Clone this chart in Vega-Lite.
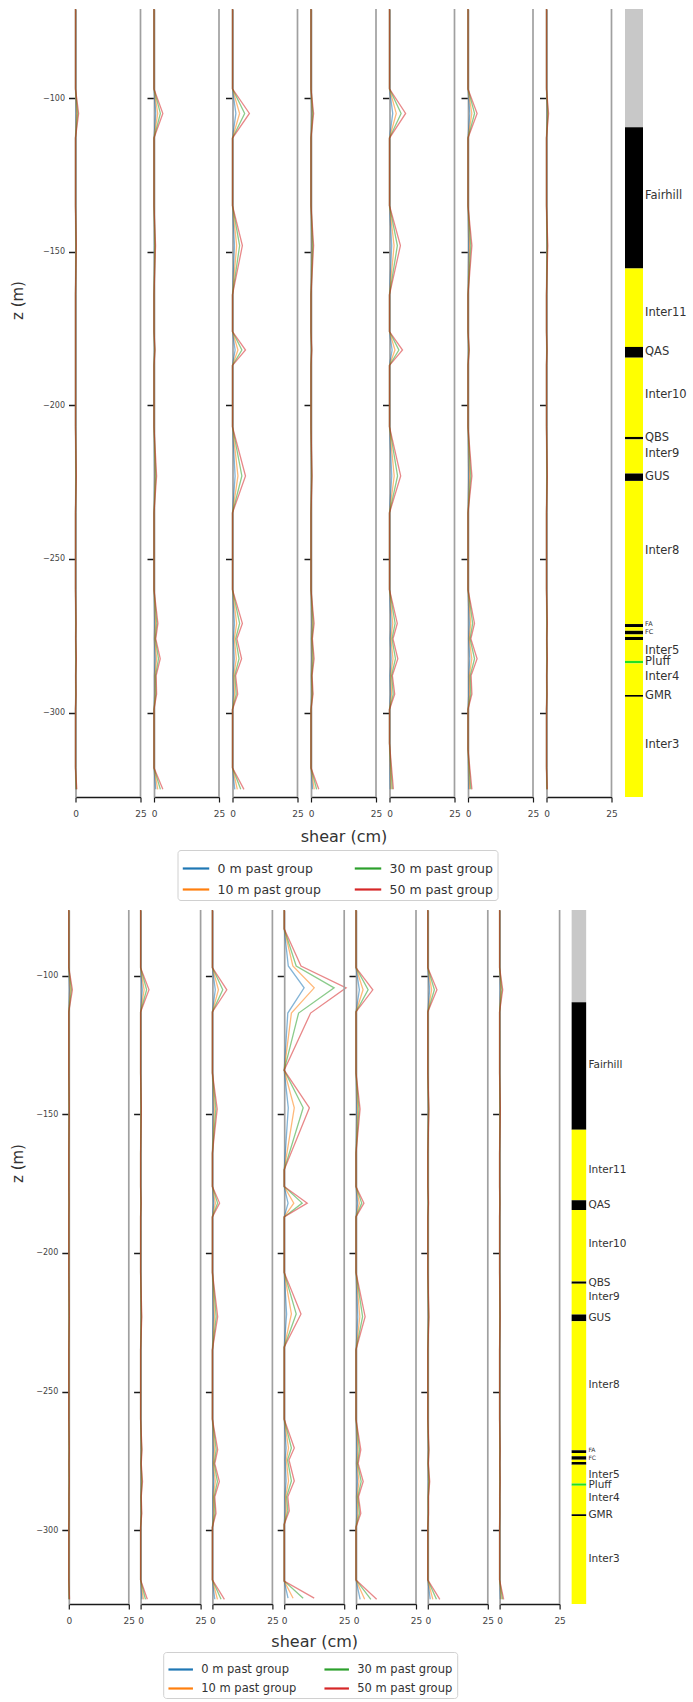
{
"$schema": "https://vega.github.io/schema/vega-lite/v6.json",
"background": "white",
"padding": {"left": 10, "top": 6, "right": 0, "bottom": 0},
"config": {
 "view": {"stroke": null},
 "font": "DejaVu Sans",
 "axis": {"grid": false, "labelFont": "DejaVu Sans", "titleFont": "DejaVu Sans", "titleFontWeight": "normal", "titleColor": "#333", "labelColor": "#444"},
 "axisX": {"domainColor": "#1a1a1a", "domainWidth": 1.4, "tickColor": "#1a1a1a", "tickSize": 5, "tickWidth": 1.2, "labelFontSize": 9, "labelPadding": 7, "labelFlush": false, "labelOverlap": false},
 "axisY": {"domainColor": "#a0a0a0", "domainWidth": 1.7, "tickColor": "#1a1a1a", "tickSize": 7, "tickWidth": 1.5, "labelFontSize": 8, "labelPadding": 4},
 "legend": {"symbolType": "stroke", "symbolStrokeWidth": 2.2, "symbolOpacity": 1, "labelFont": "DejaVu Sans", "labelColor": "#333", "strokeColor": "#d0d0d0", "fillColor": "#ffffff", "cornerRadius": 3, "padding": 4, "columns": 2, "labelOffset": 7}
},
"datasets": {
 "strat": [
  {"top": -71, "bot": -109.5, "kind": "none"},
  {"top": -109.5, "bot": -155.5, "kind": "flow", "label": "Fairhill", "mid": -132},
  {"top": -155.5, "bot": -181, "kind": "inter", "label": "Inter11", "mid": -170},
  {"top": -181, "bot": -184.5, "kind": "flow", "label": "QAS", "mid": -182.8},
  {"top": -184.5, "bot": -210.3, "kind": "inter", "label": "Inter10", "mid": -196.8},
  {"top": -210.3, "bot": -211.1, "kind": "flow", "label": "QBS", "mid": -210.7},
  {"top": -211.1, "bot": -222.2, "kind": "inter", "label": "Inter9", "mid": -216},
  {"top": -222.2, "bot": -224.6, "kind": "flow", "label": "GUS", "mid": -223.4},
  {"top": -224.6, "bot": -271.2, "kind": "inter", "label": "Inter8", "mid": -247.5},
  {"top": -271.2, "bot": -272.2, "kind": "flow", "label": "FA", "mid": -271.2},
  {"top": -272.2, "bot": -273.4, "kind": "inter"},
  {"top": -273.4, "bot": -274.6, "kind": "flow", "label": "FC", "mid": -273.9},
  {"top": -274.6, "bot": -275.4, "kind": "inter"},
  {"top": -275.4, "bot": -276.4, "kind": "flow"},
  {"top": -276.4, "bot": -283.2, "kind": "inter", "label": "Inter5", "mid": -280},
  {"top": -283.2, "bot": -284, "kind": "tuff", "label": "Pluff", "mid": -283.6},
  {"top": -284, "bot": -294.3, "kind": "inter", "label": "Inter4", "mid": -288.6},
  {"top": -294.3, "bot": -294.9, "kind": "flow", "label": "GMR", "mid": -294.6},
  {"top": -294.9, "bot": -327.5, "kind": "inter", "label": "Inter3", "mid": -310.5}
 ],
 "shear": [
  {"f":1,"p":1,"z":-71,"m0":0,"m10":0,"m30":0,"m50":0},
  {"f":1,"p":1,"z":-97,"m0":0,"m10":0,"m30":0,"m50":0},
  {"f":1,"p":1,"z":-105,"m0":0.24,"m10":0.5,"m30":0.86,"m50":1.2},
  {"f":1,"p":1,"z":-113,"m0":0,"m10":0,"m30":0,"m50":0},
  {"f":1,"p":1,"z":-135,"m0":0,"m10":0,"m30":0,"m50":0},
  {"f":1,"p":1,"z":-148,"m0":0.06,"m10":0.13,"m30":0.22,"m50":0.3},
  {"f":1,"p":1,"z":-164,"m0":0,"m10":0,"m30":0,"m50":0},
  {"f":1,"p":1,"z":-207,"m0":0,"m10":0,"m30":0,"m50":0},
  {"f":1,"p":1,"z":-223,"m0":0.06,"m10":0.13,"m30":0.22,"m50":0.3},
  {"f":1,"p":1,"z":-235,"m0":0,"m10":0,"m30":0,"m50":0},
  {"f":1,"p":1,"z":-260,"m0":0,"m10":0,"m30":0,"m50":0},
  {"f":1,"p":1,"z":-271,"m0":0.04,"m10":0.08,"m30":0.14,"m50":0.2},
  {"f":1,"p":1,"z":-276,"m0":0.02,"m10":0.04,"m30":0.06,"m50":0.09},
  {"f":1,"p":1,"z":-282.5,"m0":0.06,"m10":0.13,"m30":0.22,"m50":0.3},
  {"f":1,"p":1,"z":-288,"m0":0.02,"m10":0.04,"m30":0.07,"m50":0.1},
  {"f":1,"p":1,"z":-294,"m0":0.04,"m10":0.08,"m30":0.14,"m50":0.2},
  {"f":1,"p":1,"z":-299,"m0":0,"m10":0,"m30":0,"m50":0},
  {"f":1,"p":1,"z":-318,"m0":0,"m10":0,"m30":0,"m50":0},
  {"f":1,"p":1,"z":-325,"m0":0.1,"m10":0.21,"m30":0.36,"m50":0.5},

  {"f":1,"p":2,"z":-71,"m0":0,"m10":0,"m30":0,"m50":0},
  {"f":1,"p":2,"z":-97,"m0":0,"m10":0,"m30":0,"m50":0},
  {"f":1,"p":2,"z":-105,"m0":0.68,"m10":1.43,"m30":2.45,"m50":3.4},
  {"f":1,"p":2,"z":-113,"m0":0,"m10":0,"m30":0,"m50":0},
  {"f":1,"p":2,"z":-135,"m0":0,"m10":0,"m30":0,"m50":0},
  {"f":1,"p":2,"z":-148,"m0":0.12,"m10":0.25,"m30":0.43,"m50":0.6},
  {"f":1,"p":2,"z":-164,"m0":0,"m10":0,"m30":0,"m50":0},
  {"f":1,"p":2,"z":-176,"m0":0,"m10":0,"m30":0,"m50":0},
  {"f":1,"p":2,"z":-182,"m0":0.08,"m10":0.17,"m30":0.29,"m50":0.4},
  {"f":1,"p":2,"z":-187,"m0":0,"m10":0,"m30":0,"m50":0},
  {"f":1,"p":2,"z":-207,"m0":0,"m10":0,"m30":0,"m50":0},
  {"f":1,"p":2,"z":-223,"m0":0.2,"m10":0.42,"m30":0.72,"m50":1},
  {"f":1,"p":2,"z":-235,"m0":0,"m10":0,"m30":0,"m50":0},
  {"f":1,"p":2,"z":-260,"m0":0,"m10":0,"m30":0,"m50":0},
  {"f":1,"p":2,"z":-271,"m0":0.3,"m10":0.63,"m30":1.08,"m50":1.5},
  {"f":1,"p":2,"z":-276,"m0":0.14,"m10":0.29,"m30":0.49,"m50":0.68},
  {"f":1,"p":2,"z":-282.5,"m0":0.48,"m10":1.01,"m30":1.73,"m50":2.4},
  {"f":1,"p":2,"z":-288,"m0":0.17,"m10":0.35,"m30":0.6,"m50":0.84},
  {"f":1,"p":2,"z":-294,"m0":0.2,"m10":0.42,"m30":0.72,"m50":1},
  {"f":1,"p":2,"z":-299,"m0":0,"m10":0,"m30":0,"m50":0},
  {"f":1,"p":2,"z":-318,"m0":0,"m10":0,"m30":0,"m50":0},
  {"f":1,"p":2,"z":-325,"m0":0.68,"m10":1.43,"m30":2.45,"m50":3.4},

  {"f":1,"p":3,"z":-71,"m0":0,"m10":0,"m30":0,"m50":0},
  {"f":1,"p":3,"z":-97,"m0":0,"m10":0,"m30":0,"m50":0},
  {"f":1,"p":3,"z":-105,"m0":1.3,"m10":2.73,"m30":4.68,"m50":6.5},
  {"f":1,"p":3,"z":-113,"m0":0,"m10":0,"m30":0,"m50":0},
  {"f":1,"p":3,"z":-135,"m0":0,"m10":0,"m30":0,"m50":0},
  {"f":1,"p":3,"z":-148,"m0":0.76,"m10":1.6,"m30":2.74,"m50":3.8},
  {"f":1,"p":3,"z":-164,"m0":0,"m10":0,"m30":0,"m50":0},
  {"f":1,"p":3,"z":-176,"m0":0,"m10":0,"m30":0,"m50":0},
  {"f":1,"p":3,"z":-182,"m0":1,"m10":2.1,"m30":3.6,"m50":5},
  {"f":1,"p":3,"z":-187,"m0":0,"m10":0,"m30":0,"m50":0},
  {"f":1,"p":3,"z":-207,"m0":0,"m10":0,"m30":0,"m50":0},
  {"f":1,"p":3,"z":-223,"m0":1,"m10":2.1,"m30":3.6,"m50":5},
  {"f":1,"p":3,"z":-235,"m0":0,"m10":0,"m30":0,"m50":0},
  {"f":1,"p":3,"z":-260,"m0":0,"m10":0,"m30":0,"m50":0},
  {"f":1,"p":3,"z":-271,"m0":0.76,"m10":1.6,"m30":2.74,"m50":3.8},
  {"f":1,"p":3,"z":-276,"m0":0.34,"m10":0.71,"m30":1.22,"m50":1.7},
  {"f":1,"p":3,"z":-282.5,"m0":0.7,"m10":1.47,"m30":2.52,"m50":3.5},
  {"f":1,"p":3,"z":-288,"m0":0.24,"m10":0.5,"m30":0.86,"m50":1.2},
  {"f":1,"p":3,"z":-294,"m0":0.4,"m10":0.84,"m30":1.44,"m50":2},
  {"f":1,"p":3,"z":-299,"m0":0,"m10":0,"m30":0,"m50":0},
  {"f":1,"p":3,"z":-318,"m0":0,"m10":0,"m30":0,"m50":0},
  {"f":1,"p":3,"z":-325,"m0":0.88,"m10":1.85,"m30":3.17,"m50":4.4},

  {"f":1,"p":4,"z":-71,"m0":0,"m10":0,"m30":0,"m50":0},
  {"f":1,"p":4,"z":-97,"m0":0,"m10":0,"m30":0,"m50":0},
  {"f":1,"p":4,"z":-105,"m0":0.2,"m10":0.42,"m30":0.72,"m50":1},
  {"f":1,"p":4,"z":-113,"m0":0,"m10":0,"m30":0,"m50":0},
  {"f":1,"p":4,"z":-135,"m0":0,"m10":0,"m30":0,"m50":0},
  {"f":1,"p":4,"z":-148,"m0":0.2,"m10":0.42,"m30":0.72,"m50":1},
  {"f":1,"p":4,"z":-164,"m0":0,"m10":0,"m30":0,"m50":0},
  {"f":1,"p":4,"z":-176,"m0":0,"m10":0,"m30":0,"m50":0},
  {"f":1,"p":4,"z":-182,"m0":0.06,"m10":0.13,"m30":0.22,"m50":0.3},
  {"f":1,"p":4,"z":-187,"m0":0,"m10":0,"m30":0,"m50":0},
  {"f":1,"p":4,"z":-207,"m0":0,"m10":0,"m30":0,"m50":0},
  {"f":1,"p":4,"z":-223,"m0":0.08,"m10":0.17,"m30":0.29,"m50":0.4},
  {"f":1,"p":4,"z":-235,"m0":0,"m10":0,"m30":0,"m50":0},
  {"f":1,"p":4,"z":-260,"m0":0,"m10":0,"m30":0,"m50":0},
  {"f":1,"p":4,"z":-271,"m0":0.24,"m10":0.5,"m30":0.86,"m50":1.2},
  {"f":1,"p":4,"z":-276,"m0":0.11,"m10":0.23,"m30":0.39,"m50":0.54},
  {"f":1,"p":4,"z":-282.5,"m0":0.24,"m10":0.5,"m30":0.86,"m50":1.2},
  {"f":1,"p":4,"z":-288,"m0":0.08,"m10":0.18,"m30":0.3,"m50":0.42},
  {"f":1,"p":4,"z":-294,"m0":0.16,"m10":0.34,"m30":0.58,"m50":0.8},
  {"f":1,"p":4,"z":-299,"m0":0,"m10":0,"m30":0,"m50":0},
  {"f":1,"p":4,"z":-318,"m0":0,"m10":0,"m30":0,"m50":0},
  {"f":1,"p":4,"z":-325,"m0":0.6,"m10":1.26,"m30":2.16,"m50":3},

  {"f":1,"p":5,"z":-71,"m0":0,"m10":0,"m30":0,"m50":0},
  {"f":1,"p":5,"z":-97,"m0":0,"m10":0,"m30":0,"m50":0},
  {"f":1,"p":5,"z":-105,"m0":1.24,"m10":2.6,"m30":4.46,"m50":6.2},
  {"f":1,"p":5,"z":-113,"m0":0,"m10":0,"m30":0,"m50":0},
  {"f":1,"p":5,"z":-135,"m0":0,"m10":0,"m30":0,"m50":0},
  {"f":1,"p":5,"z":-148,"m0":0.84,"m10":1.76,"m30":3.02,"m50":4.2},
  {"f":1,"p":5,"z":-164,"m0":0,"m10":0,"m30":0,"m50":0},
  {"f":1,"p":5,"z":-176,"m0":0,"m10":0,"m30":0,"m50":0},
  {"f":1,"p":5,"z":-182,"m0":1,"m10":2.1,"m30":3.6,"m50":5},
  {"f":1,"p":5,"z":-187,"m0":0,"m10":0,"m30":0,"m50":0},
  {"f":1,"p":5,"z":-207,"m0":0,"m10":0,"m30":0,"m50":0},
  {"f":1,"p":5,"z":-223,"m0":0.86,"m10":1.81,"m30":3.1,"m50":4.3},
  {"f":1,"p":5,"z":-235,"m0":0,"m10":0,"m30":0,"m50":0},
  {"f":1,"p":5,"z":-260,"m0":0,"m10":0,"m30":0,"m50":0},
  {"f":1,"p":5,"z":-271,"m0":0.6,"m10":1.26,"m30":2.16,"m50":3},
  {"f":1,"p":5,"z":-276,"m0":0.27,"m10":0.57,"m30":0.97,"m50":1.35},
  {"f":1,"p":5,"z":-282.5,"m0":0.64,"m10":1.34,"m30":2.3,"m50":3.2},
  {"f":1,"p":5,"z":-288,"m0":0.22,"m10":0.46,"m30":0.79,"m50":1.1},
  {"f":1,"p":5,"z":-294,"m0":0.4,"m10":0.84,"m30":1.44,"m50":2},
  {"f":1,"p":5,"z":-299,"m0":0,"m10":0,"m30":0,"m50":0},
  {"f":1,"p":5,"z":-310,"m0":0,"m10":0,"m30":0,"m50":0},
  {"f":1,"p":5,"z":-325,"m0":0.3,"m10":0.63,"m30":1.08,"m50":1.5},

  {"f":1,"p":6,"z":-71,"m0":0,"m10":0,"m30":0,"m50":0},
  {"f":1,"p":6,"z":-97,"m0":0,"m10":0,"m30":0,"m50":0},
  {"f":1,"p":6,"z":-105,"m0":0.7,"m10":1.47,"m30":2.52,"m50":3.5},
  {"f":1,"p":6,"z":-113,"m0":0,"m10":0,"m30":0,"m50":0},
  {"f":1,"p":6,"z":-135,"m0":0,"m10":0,"m30":0,"m50":0},
  {"f":1,"p":6,"z":-148,"m0":0.3,"m10":0.63,"m30":1.08,"m50":1.5},
  {"f":1,"p":6,"z":-164,"m0":0,"m10":0,"m30":0,"m50":0},
  {"f":1,"p":6,"z":-176,"m0":0,"m10":0,"m30":0,"m50":0},
  {"f":1,"p":6,"z":-182,"m0":0.1,"m10":0.21,"m30":0.36,"m50":0.5},
  {"f":1,"p":6,"z":-187,"m0":0,"m10":0,"m30":0,"m50":0},
  {"f":1,"p":6,"z":-207,"m0":0,"m10":0,"m30":0,"m50":0},
  {"f":1,"p":6,"z":-223,"m0":0.3,"m10":0.63,"m30":1.08,"m50":1.5},
  {"f":1,"p":6,"z":-235,"m0":0,"m10":0,"m30":0,"m50":0},
  {"f":1,"p":6,"z":-260,"m0":0,"m10":0,"m30":0,"m50":0},
  {"f":1,"p":6,"z":-271,"m0":0.5,"m10":1.05,"m30":1.8,"m50":2.5},
  {"f":1,"p":6,"z":-276,"m0":0.22,"m10":0.46,"m30":0.79,"m50":1.1},
  {"f":1,"p":6,"z":-282.5,"m0":0.7,"m10":1.47,"m30":2.52,"m50":3.5},
  {"f":1,"p":6,"z":-288,"m0":0.24,"m10":0.5,"m30":0.86,"m50":1.2},
  {"f":1,"p":6,"z":-294,"m0":0.3,"m10":0.63,"m30":1.08,"m50":1.5},
  {"f":1,"p":6,"z":-299,"m0":0,"m10":0,"m30":0,"m50":0},
  {"f":1,"p":6,"z":-312,"m0":0,"m10":0,"m30":0,"m50":0},
  {"f":1,"p":6,"z":-325,"m0":0.3,"m10":0.63,"m30":1.08,"m50":1.5},

  {"f":1,"p":7,"z":-71,"m0":0,"m10":0,"m30":0,"m50":0},
  {"f":1,"p":7,"z":-97,"m0":0,"m10":0,"m30":0,"m50":0},
  {"f":1,"p":7,"z":-105,"m0":0.16,"m10":0.34,"m30":0.58,"m50":0.8},
  {"f":1,"p":7,"z":-113,"m0":0,"m10":0,"m30":0,"m50":0},
  {"f":1,"p":7,"z":-135,"m0":0,"m10":0,"m30":0,"m50":0},
  {"f":1,"p":7,"z":-148,"m0":0.1,"m10":0.21,"m30":0.36,"m50":0.5},
  {"f":1,"p":7,"z":-164,"m0":0,"m10":0,"m30":0,"m50":0},
  {"f":1,"p":7,"z":-176,"m0":0,"m10":0,"m30":0,"m50":0},
  {"f":1,"p":7,"z":-182,"m0":0.04,"m10":0.08,"m30":0.14,"m50":0.2},
  {"f":1,"p":7,"z":-187,"m0":0,"m10":0,"m30":0,"m50":0},
  {"f":1,"p":7,"z":-207,"m0":0,"m10":0,"m30":0,"m50":0},
  {"f":1,"p":7,"z":-223,"m0":0.06,"m10":0.13,"m30":0.22,"m50":0.3},
  {"f":1,"p":7,"z":-235,"m0":0,"m10":0,"m30":0,"m50":0},
  {"f":1,"p":7,"z":-260,"m0":0,"m10":0,"m30":0,"m50":0},
  {"f":1,"p":7,"z":-271,"m0":0.06,"m10":0.13,"m30":0.22,"m50":0.3},
  {"f":1,"p":7,"z":-276,"m0":0.03,"m10":0.05,"m30":0.09,"m50":0.13},
  {"f":1,"p":7,"z":-282.5,"m0":0.06,"m10":0.13,"m30":0.22,"m50":0.3},
  {"f":1,"p":7,"z":-288,"m0":0.02,"m10":0.04,"m30":0.07,"m50":0.1},
  {"f":1,"p":7,"z":-294,"m0":0.04,"m10":0.08,"m30":0.14,"m50":0.2},
  {"f":1,"p":7,"z":-299,"m0":0,"m10":0,"m30":0,"m50":0},
  {"f":1,"p":7,"z":-318,"m0":0,"m10":0,"m30":0,"m50":0},
  {"f":1,"p":7,"z":-325,"m0":0.06,"m10":0.13,"m30":0.22,"m50":0.3},

  {"f":2,"p":1,"z":-76.2,"m0":0,"m10":0,"m30":0,"m50":0},
  {"f":2,"p":1,"z":-97,"m0":0,"m10":0,"m30":0,"m50":0},
  {"f":2,"p":1,"z":-105,"m0":0.3,"m10":0.63,"m30":1.08,"m50":1.5},
  {"f":2,"p":1,"z":-113,"m0":0,"m10":0,"m30":0,"m50":0},
  {"f":2,"p":1,"z":-135,"m0":0,"m10":0,"m30":0,"m50":0},
  {"f":2,"p":1,"z":-148,"m0":0.04,"m10":0.08,"m30":0.14,"m50":0.2},
  {"f":2,"p":1,"z":-164,"m0":0,"m10":0,"m30":0,"m50":0},
  {"f":2,"p":1,"z":-176,"m0":0,"m10":0,"m30":0,"m50":0},
  {"f":2,"p":1,"z":-182,"m0":0.02,"m10":0.04,"m30":0.07,"m50":0.1},
  {"f":2,"p":1,"z":-187,"m0":0,"m10":0,"m30":0,"m50":0},
  {"f":2,"p":1,"z":-207,"m0":0,"m10":0,"m30":0,"m50":0},
  {"f":2,"p":1,"z":-223,"m0":0.04,"m10":0.08,"m30":0.14,"m50":0.2},
  {"f":2,"p":1,"z":-235,"m0":0,"m10":0,"m30":0,"m50":0},
  {"f":2,"p":1,"z":-260,"m0":0,"m10":0,"m30":0,"m50":0},
  {"f":2,"p":1,"z":-271,"m0":0.04,"m10":0.08,"m30":0.14,"m50":0.2},
  {"f":2,"p":1,"z":-276,"m0":0.02,"m10":0.04,"m30":0.06,"m50":0.09},
  {"f":2,"p":1,"z":-282.5,"m0":0.04,"m10":0.08,"m30":0.14,"m50":0.2},
  {"f":2,"p":1,"z":-288,"m0":0.01,"m10":0.03,"m30":0.05,"m50":0.07},
  {"f":2,"p":1,"z":-294,"m0":0.02,"m10":0.04,"m30":0.07,"m50":0.1},
  {"f":2,"p":1,"z":-299,"m0":0,"m10":0,"m30":0,"m50":0},
  {"f":2,"p":1,"z":-318,"m0":0,"m10":0,"m30":0,"m50":0},
  {"f":2,"p":1,"z":-325,"m0":0.06,"m10":0.13,"m30":0.22,"m50":0.3},

  {"f":2,"p":2,"z":-76.2,"m0":0,"m10":0,"m30":0,"m50":0},
  {"f":2,"p":2,"z":-97,"m0":0,"m10":0,"m30":0,"m50":0},
  {"f":2,"p":2,"z":-105,"m0":0.7,"m10":1.47,"m30":2.52,"m50":3.5},
  {"f":2,"p":2,"z":-113,"m0":0,"m10":0,"m30":0,"m50":0},
  {"f":2,"p":2,"z":-135,"m0":0,"m10":0,"m30":0,"m50":0},
  {"f":2,"p":2,"z":-148,"m0":0.06,"m10":0.13,"m30":0.22,"m50":0.3},
  {"f":2,"p":2,"z":-164,"m0":0,"m10":0,"m30":0,"m50":0},
  {"f":2,"p":2,"z":-176,"m0":0,"m10":0,"m30":0,"m50":0},
  {"f":2,"p":2,"z":-182,"m0":0.04,"m10":0.08,"m30":0.14,"m50":0.2},
  {"f":2,"p":2,"z":-187,"m0":0,"m10":0,"m30":0,"m50":0},
  {"f":2,"p":2,"z":-207,"m0":0,"m10":0,"m30":0,"m50":0},
  {"f":2,"p":2,"z":-223,"m0":0.1,"m10":0.21,"m30":0.36,"m50":0.5},
  {"f":2,"p":2,"z":-235,"m0":0,"m10":0,"m30":0,"m50":0},
  {"f":2,"p":2,"z":-260,"m0":0,"m10":0,"m30":0,"m50":0},
  {"f":2,"p":2,"z":-271,"m0":0.12,"m10":0.25,"m30":0.43,"m50":0.6},
  {"f":2,"p":2,"z":-276,"m0":0.05,"m10":0.11,"m30":0.19,"m50":0.27},
  {"f":2,"p":2,"z":-282.5,"m0":0.16,"m10":0.34,"m30":0.58,"m50":0.8},
  {"f":2,"p":2,"z":-288,"m0":0.06,"m10":0.12,"m30":0.2,"m50":0.28},
  {"f":2,"p":2,"z":-294,"m0":0.1,"m10":0.21,"m30":0.36,"m50":0.5},
  {"f":2,"p":2,"z":-299,"m0":0,"m10":0,"m30":0,"m50":0},
  {"f":2,"p":2,"z":-318,"m0":0,"m10":0,"m30":0,"m50":0},
  {"f":2,"p":2,"z":-325,"m0":0.56,"m10":1.18,"m30":2.02,"m50":2.8},

  {"f":2,"p":3,"z":-76.2,"m0":0,"m10":0,"m30":0,"m50":0},
  {"f":2,"p":3,"z":-97,"m0":0,"m10":0,"m30":0,"m50":0},
  {"f":2,"p":3,"z":-105,"m0":1.2,"m10":2.52,"m30":4.32,"m50":6},
  {"f":2,"p":3,"z":-113,"m0":0,"m10":0,"m30":0,"m50":0},
  {"f":2,"p":3,"z":-135,"m0":0,"m10":0,"m30":0,"m50":0},
  {"f":2,"p":3,"z":-148,"m0":0.4,"m10":0.84,"m30":1.44,"m50":2},
  {"f":2,"p":3,"z":-164,"m0":0,"m10":0,"m30":0,"m50":0},
  {"f":2,"p":3,"z":-176,"m0":0,"m10":0,"m30":0,"m50":0},
  {"f":2,"p":3,"z":-182,"m0":0.6,"m10":1.26,"m30":2.16,"m50":3},
  {"f":2,"p":3,"z":-187,"m0":0,"m10":0,"m30":0,"m50":0},
  {"f":2,"p":3,"z":-207,"m0":0,"m10":0,"m30":0,"m50":0},
  {"f":2,"p":3,"z":-223,"m0":0.44,"m10":0.92,"m30":1.58,"m50":2.2},
  {"f":2,"p":3,"z":-235,"m0":0,"m10":0,"m30":0,"m50":0},
  {"f":2,"p":3,"z":-260,"m0":0,"m10":0,"m30":0,"m50":0},
  {"f":2,"p":3,"z":-271,"m0":0.44,"m10":0.92,"m30":1.58,"m50":2.2},
  {"f":2,"p":3,"z":-276,"m0":0.2,"m10":0.42,"m30":0.72,"m50":1},
  {"f":2,"p":3,"z":-282.5,"m0":0.58,"m10":1.22,"m30":2.09,"m50":2.9},
  {"f":2,"p":3,"z":-288,"m0":0.2,"m10":0.42,"m30":0.72,"m50":1},
  {"f":2,"p":3,"z":-294,"m0":0.3,"m10":0.63,"m30":1.08,"m50":1.5},
  {"f":2,"p":3,"z":-299,"m0":0,"m10":0,"m30":0,"m50":0},
  {"f":2,"p":3,"z":-318,"m0":0,"m10":0,"m30":0,"m50":0},
  {"f":2,"p":3,"z":-325,"m0":1,"m10":2.1,"m30":3.6,"m50":5},

  {"f":2,"p":4,"z":-76.2,"m0":0,"m10":0,"m30":0,"m50":0},
  {"f":2,"p":4,"z":-83,"m0":0,"m10":0,"m30":0,"m50":0},
  {"f":2,"p":4,"z":-96.4,"m0":1.7,"m10":3.6,"m30":5,"m50":7},
  {"f":2,"p":4,"z":-104.3,"m0":8.3,"m10":12.5,"m30":20.8,"m50":25.8},
  {"f":2,"p":4,"z":-113.4,"m0":1.5,"m10":3,"m30":6,"m50":11},
  {"f":2,"p":4,"z":-134,"m0":0,"m10":0,"m30":0,"m50":0},
  {"f":2,"p":4,"z":-147.6,"m0":1.7,"m10":4.2,"m30":7.9,"m50":10.5},
  {"f":2,"p":4,"z":-170,"m0":0,"m10":0,"m30":0,"m50":0},
  {"f":2,"p":4,"z":-176,"m0":0,"m10":0,"m30":0,"m50":0},
  {"f":2,"p":4,"z":-182,"m0":1.6,"m10":4,"m30":7.5,"m50":9.6},
  {"f":2,"p":4,"z":-187,"m0":0,"m10":0,"m30":0,"m50":0},
  {"f":2,"p":4,"z":-207,"m0":0,"m10":0,"m30":0,"m50":0},
  {"f":2,"p":4,"z":-222,"m0":1,"m10":3,"m30":5,"m50":7},
  {"f":2,"p":4,"z":-234,"m0":0,"m10":0,"m30":0,"m50":0},
  {"f":2,"p":4,"z":-260,"m0":0,"m10":0,"m30":0,"m50":0},
  {"f":2,"p":4,"z":-270.4,"m0":0.8,"m10":1.8,"m30":3,"m50":4.2},
  {"f":2,"p":4,"z":-274.7,"m0":0.4,"m10":0.9,"m30":1.4,"m50":2},
  {"f":2,"p":4,"z":-282.3,"m0":0.8,"m10":1.8,"m30":3,"m50":4.2},
  {"f":2,"p":4,"z":-288,"m0":0.3,"m10":0.6,"m30":1,"m50":1.5},
  {"f":2,"p":4,"z":-293.1,"m0":0.4,"m10":0.9,"m30":1.5,"m50":2.1},
  {"f":2,"p":4,"z":-298,"m0":0,"m10":0,"m30":0,"m50":0},
  {"f":2,"p":4,"z":-318.4,"m0":0,"m10":0,"m30":0,"m50":0},
  {"f":2,"p":4,"z":-324.6,"m0":1.6,"m10":3.7,"m30":7.9,"m50":12.5},

  {"f":2,"p":5,"z":-76.2,"m0":0,"m10":0,"m30":0,"m50":0},
  {"f":2,"p":5,"z":-97,"m0":0,"m10":0,"m30":0,"m50":0},
  {"f":2,"p":5,"z":-105,"m0":1.4,"m10":2.94,"m30":5.04,"m50":7},
  {"f":2,"p":5,"z":-113,"m0":0,"m10":0,"m30":0,"m50":0},
  {"f":2,"p":5,"z":-135,"m0":0,"m10":0,"m30":0,"m50":0},
  {"f":2,"p":5,"z":-148,"m0":0.34,"m10":0.71,"m30":1.22,"m50":1.7},
  {"f":2,"p":5,"z":-164,"m0":0,"m10":0,"m30":0,"m50":0},
  {"f":2,"p":5,"z":-176,"m0":0,"m10":0,"m30":0,"m50":0},
  {"f":2,"p":5,"z":-182,"m0":0.66,"m10":1.39,"m30":2.38,"m50":3.3},
  {"f":2,"p":5,"z":-187,"m0":0,"m10":0,"m30":0,"m50":0},
  {"f":2,"p":5,"z":-207,"m0":0,"m10":0,"m30":0,"m50":0},
  {"f":2,"p":5,"z":-223,"m0":0.76,"m10":1.6,"m30":2.74,"m50":3.8},
  {"f":2,"p":5,"z":-235,"m0":0,"m10":0,"m30":0,"m50":0},
  {"f":2,"p":5,"z":-260,"m0":0,"m10":0,"m30":0,"m50":0},
  {"f":2,"p":5,"z":-271,"m0":0.4,"m10":0.84,"m30":1.44,"m50":2},
  {"f":2,"p":5,"z":-276,"m0":0.18,"m10":0.38,"m30":0.65,"m50":0.9},
  {"f":2,"p":5,"z":-282.5,"m0":0.6,"m10":1.26,"m30":2.16,"m50":3},
  {"f":2,"p":5,"z":-288,"m0":0.21,"m10":0.44,"m30":0.76,"m50":1.05},
  {"f":2,"p":5,"z":-294,"m0":0.4,"m10":0.84,"m30":1.44,"m50":2},
  {"f":2,"p":5,"z":-299,"m0":0,"m10":0,"m30":0,"m50":0},
  {"f":2,"p":5,"z":-318,"m0":0,"m10":0,"m30":0,"m50":0},
  {"f":2,"p":5,"z":-325,"m0":1.72,"m10":3.61,"m30":6.19,"m50":8.6},

  {"f":2,"p":6,"z":-76.2,"m0":0,"m10":0,"m30":0,"m50":0},
  {"f":2,"p":6,"z":-97,"m0":0,"m10":0,"m30":0,"m50":0},
  {"f":2,"p":6,"z":-105,"m0":0.76,"m10":1.6,"m30":2.74,"m50":3.8},
  {"f":2,"p":6,"z":-113,"m0":0,"m10":0,"m30":0,"m50":0},
  {"f":2,"p":6,"z":-135,"m0":0,"m10":0,"m30":0,"m50":0},
  {"f":2,"p":6,"z":-148,"m0":0.1,"m10":0.21,"m30":0.36,"m50":0.5},
  {"f":2,"p":6,"z":-164,"m0":0,"m10":0,"m30":0,"m50":0},
  {"f":2,"p":6,"z":-176,"m0":0,"m10":0,"m30":0,"m50":0},
  {"f":2,"p":6,"z":-182,"m0":0.06,"m10":0.13,"m30":0.22,"m50":0.3},
  {"f":2,"p":6,"z":-187,"m0":0,"m10":0,"m30":0,"m50":0},
  {"f":2,"p":6,"z":-207,"m0":0,"m10":0,"m30":0,"m50":0},
  {"f":2,"p":6,"z":-223,"m0":0.1,"m10":0.21,"m30":0.36,"m50":0.5},
  {"f":2,"p":6,"z":-235,"m0":0,"m10":0,"m30":0,"m50":0},
  {"f":2,"p":6,"z":-260,"m0":0,"m10":0,"m30":0,"m50":0},
  {"f":2,"p":6,"z":-271,"m0":0.1,"m10":0.21,"m30":0.36,"m50":0.5},
  {"f":2,"p":6,"z":-276,"m0":0.04,"m10":0.09,"m30":0.16,"m50":0.22},
  {"f":2,"p":6,"z":-282.5,"m0":0.16,"m10":0.34,"m30":0.58,"m50":0.8},
  {"f":2,"p":6,"z":-288,"m0":0.06,"m10":0.12,"m30":0.2,"m50":0.28},
  {"f":2,"p":6,"z":-294,"m0":0.06,"m10":0.13,"m30":0.22,"m50":0.3},
  {"f":2,"p":6,"z":-299,"m0":0,"m10":0,"m30":0,"m50":0},
  {"f":2,"p":6,"z":-318,"m0":0,"m10":0,"m30":0,"m50":0},
  {"f":2,"p":6,"z":-325,"m0":1,"m10":2.1,"m30":3.6,"m50":5},

  {"f":2,"p":7,"z":-76.2,"m0":0,"m10":0,"m30":0,"m50":0},
  {"f":2,"p":7,"z":-97,"m0":0,"m10":0,"m30":0,"m50":0},
  {"f":2,"p":7,"z":-105,"m0":0.26,"m10":0.55,"m30":0.94,"m50":1.3},
  {"f":2,"p":7,"z":-113,"m0":0,"m10":0,"m30":0,"m50":0},
  {"f":2,"p":7,"z":-135,"m0":0,"m10":0,"m30":0,"m50":0},
  {"f":2,"p":7,"z":-148,"m0":0.06,"m10":0.13,"m30":0.22,"m50":0.3},
  {"f":2,"p":7,"z":-164,"m0":0,"m10":0,"m30":0,"m50":0},
  {"f":2,"p":7,"z":-176,"m0":0,"m10":0,"m30":0,"m50":0},
  {"f":2,"p":7,"z":-182,"m0":0.02,"m10":0.04,"m30":0.07,"m50":0.1},
  {"f":2,"p":7,"z":-187,"m0":0,"m10":0,"m30":0,"m50":0},
  {"f":2,"p":7,"z":-207,"m0":0,"m10":0,"m30":0,"m50":0},
  {"f":2,"p":7,"z":-223,"m0":0.04,"m10":0.08,"m30":0.14,"m50":0.2},
  {"f":2,"p":7,"z":-235,"m0":0,"m10":0,"m30":0,"m50":0},
  {"f":2,"p":7,"z":-260,"m0":0,"m10":0,"m30":0,"m50":0},
  {"f":2,"p":7,"z":-271,"m0":0.04,"m10":0.08,"m30":0.14,"m50":0.2},
  {"f":2,"p":7,"z":-276,"m0":0.02,"m10":0.04,"m30":0.06,"m50":0.09},
  {"f":2,"p":7,"z":-282.5,"m0":0.04,"m10":0.08,"m30":0.14,"m50":0.2},
  {"f":2,"p":7,"z":-288,"m0":0.01,"m10":0.03,"m30":0.05,"m50":0.07},
  {"f":2,"p":7,"z":-294,"m0":0.02,"m10":0.04,"m30":0.07,"m50":0.1},
  {"f":2,"p":7,"z":-299,"m0":0,"m10":0,"m30":0,"m50":0},
  {"f":2,"p":7,"z":-318,"m0":0,"m10":0,"m30":0,"m50":0},
  {"f":2,"p":7,"z":-325,"m0":0.34,"m10":0.71,"m30":1.22,"m50":1.7}
 ]
},
"columns": 1,
"spacing": 6,
"resolve": {"scale": {"color": "independent"}},
"concat": [
 {
  "bounds": "flush",
  "spacing": 13.5,
  "resolve": {"scale": {"color": "independent"}},
  "hconcat": [
   {"width": 5.8, "height": 788, "data": {"values": [{}]}, "mark": {"type": "point", "opacity": 0}},
   {"width": 65, "height": 788, "layer": [
    {"data": {"name": "shear"}, "transform": [{"filter": "datum.f == 1 && datum.p == 1"}, {"fold": ["m0","m10","m30","m50"], "as": ["series","shear"]}],
     "mark": {"type": "line", "strokeWidth": 1.3, "opacity": 0.55},
     "encoding": {
      "x": {"field": "shear", "type": "quantitative", "scale": {"domain": [0,25], "nice": false, "zero": false}, "axis": {"values": [0,25], "title": null}},
      "y": {"field": "z", "type": "quantitative", "scale": {"domain": [-327.5,-71], "nice": false, "zero": false}, "axis": {"values": [-100,-150,-200,-250,-300], "title": "z (m)", "titleFontSize": 15, "titlePadding": 17, "titleY": 291}},
      "color": {"field": "series", "type": "nominal", "scale": {"domain": ["m0","m10","m30","m50"], "range": ["#1f77b4","#ff7f0e","#2ca02c","#d62728"]}, "legend": null},
      "order": {"field": "z", "type": "quantitative"}}},
    {"data": {"values": [{}]}, "mark": {"type": "rule", "color": "#a0a0a0", "strokeWidth": 1.7}, "encoding": {"x": {"datum": 25, "type": "quantitative", "axis": {"values": [0,25], "title": null}}}}
   ]},
   {"width": 65, "height": 788, "layer": [
    {"data": {"name": "shear"}, "transform": [{"filter": "datum.f == 1 && datum.p == 2"}, {"fold": ["m0","m10","m30","m50"], "as": ["series","shear"]}],
     "mark": {"type": "line", "strokeWidth": 1.3, "opacity": 0.55},
     "encoding": {
      "x": {"field": "shear", "type": "quantitative", "scale": {"domain": [0,25], "nice": false, "zero": false}, "axis": {"values": [0,25], "title": null}},
      "y": {"field": "z", "type": "quantitative", "scale": {"domain": [-327.5,-71], "nice": false, "zero": false}, "axis": {"values": [-100,-150,-200,-250,-300], "labels": false, "title": null}},
      "color": {"field": "series", "type": "nominal", "scale": {"domain": ["m0","m10","m30","m50"], "range": ["#1f77b4","#ff7f0e","#2ca02c","#d62728"]}, "legend": null},
      "order": {"field": "z", "type": "quantitative"}}},
    {"data": {"values": [{}]}, "mark": {"type": "rule", "color": "#a0a0a0", "strokeWidth": 1.7}, "encoding": {"x": {"datum": 25, "type": "quantitative", "axis": {"values": [0,25], "title": null}}}}
   ]},
   {"width": 65, "height": 788, "layer": [
    {"data": {"name": "shear"}, "transform": [{"filter": "datum.f == 1 && datum.p == 3"}, {"fold": ["m0","m10","m30","m50"], "as": ["series","shear"]}],
     "mark": {"type": "line", "strokeWidth": 1.3, "opacity": 0.55},
     "encoding": {
      "x": {"field": "shear", "type": "quantitative", "scale": {"domain": [0,25], "nice": false, "zero": false}, "axis": {"values": [0,25], "title": null}},
      "y": {"field": "z", "type": "quantitative", "scale": {"domain": [-327.5,-71], "nice": false, "zero": false}, "axis": {"values": [-100,-150,-200,-250,-300], "labels": false, "title": null}},
      "color": {"field": "series", "type": "nominal", "scale": {"domain": ["m0","m10","m30","m50"], "range": ["#1f77b4","#ff7f0e","#2ca02c","#d62728"]}, "legend": null},
      "order": {"field": "z", "type": "quantitative"}}},
    {"data": {"values": [{}]}, "mark": {"type": "rule", "color": "#a0a0a0", "strokeWidth": 1.7}, "encoding": {"x": {"datum": 25, "type": "quantitative", "axis": {"values": [0,25], "title": null}}}}
   ]},
   {"width": 65, "height": 788, "layer": [
    {"data": {"name": "shear"}, "transform": [{"filter": "datum.f == 1 && datum.p == 4"}, {"fold": ["m0","m10","m30","m50"], "as": ["series","shear"]}],
     "mark": {"type": "line", "strokeWidth": 1.3, "opacity": 0.55},
     "encoding": {
      "x": {"field": "shear", "type": "quantitative", "scale": {"domain": [0,25], "nice": false, "zero": false}, "axis": {"values": [0,25], "title": "shear (cm)", "titleFontSize": 16, "titlePadding": 10}},
      "y": {"field": "z", "type": "quantitative", "scale": {"domain": [-327.5,-71], "nice": false, "zero": false}, "axis": {"values": [-100,-150,-200,-250,-300], "labels": false, "title": null}},
      "color": {"field": "series", "type": "nominal", "scale": {"domain": ["m0","m10","m30","m50"], "range": ["#1f77b4","#ff7f0e","#2ca02c","#d62728"]},
        "legend": {"orient": "none", "legendX": -133.5, "legendY": 841, "title": null, "labelFontSize": 12.5, "symbolSize": 700, "rowPadding": -1.5, "columnPadding": 28,
          "labelExpr": "datum.value == 'm0' ? '0 m past group' : datum.value == 'm10' ? '10 m past group' : datum.value == 'm30' ? '30 m past group' : '50 m past group'"}},
      "order": {"field": "z", "type": "quantitative"}}},
    {"data": {"values": [{}]}, "mark": {"type": "rule", "color": "#a0a0a0", "strokeWidth": 1.7}, "encoding": {"x": {"datum": 25, "type": "quantitative", "axis": {"values": [0,25], "title": "shear (cm)", "titleFontSize": 16, "titlePadding": 10}}}}
   ]},
   {"width": 65, "height": 788, "layer": [
    {"data": {"name": "shear"}, "transform": [{"filter": "datum.f == 1 && datum.p == 5"}, {"fold": ["m0","m10","m30","m50"], "as": ["series","shear"]}],
     "mark": {"type": "line", "strokeWidth": 1.3, "opacity": 0.55},
     "encoding": {
      "x": {"field": "shear", "type": "quantitative", "scale": {"domain": [0,25], "nice": false, "zero": false}, "axis": {"values": [0,25], "title": null}},
      "y": {"field": "z", "type": "quantitative", "scale": {"domain": [-327.5,-71], "nice": false, "zero": false}, "axis": {"values": [-100,-150,-200,-250,-300], "labels": false, "title": null}},
      "color": {"field": "series", "type": "nominal", "scale": {"domain": ["m0","m10","m30","m50"], "range": ["#1f77b4","#ff7f0e","#2ca02c","#d62728"]}, "legend": null},
      "order": {"field": "z", "type": "quantitative"}}},
    {"data": {"values": [{}]}, "mark": {"type": "rule", "color": "#a0a0a0", "strokeWidth": 1.7}, "encoding": {"x": {"datum": 25, "type": "quantitative", "axis": {"values": [0,25], "title": null}}}}
   ]},
   {"width": 65, "height": 788, "layer": [
    {"data": {"name": "shear"}, "transform": [{"filter": "datum.f == 1 && datum.p == 6"}, {"fold": ["m0","m10","m30","m50"], "as": ["series","shear"]}],
     "mark": {"type": "line", "strokeWidth": 1.3, "opacity": 0.55},
     "encoding": {
      "x": {"field": "shear", "type": "quantitative", "scale": {"domain": [0,25], "nice": false, "zero": false}, "axis": {"values": [0,25], "title": null}},
      "y": {"field": "z", "type": "quantitative", "scale": {"domain": [-327.5,-71], "nice": false, "zero": false}, "axis": {"values": [-100,-150,-200,-250,-300], "labels": false, "title": null}},
      "color": {"field": "series", "type": "nominal", "scale": {"domain": ["m0","m10","m30","m50"], "range": ["#1f77b4","#ff7f0e","#2ca02c","#d62728"]}, "legend": null},
      "order": {"field": "z", "type": "quantitative"}}},
    {"data": {"values": [{}]}, "mark": {"type": "rule", "color": "#a0a0a0", "strokeWidth": 1.7}, "encoding": {"x": {"datum": 25, "type": "quantitative", "axis": {"values": [0,25], "title": null}}}}
   ]},
   {"width": 65, "height": 788, "layer": [
    {"data": {"name": "shear"}, "transform": [{"filter": "datum.f == 1 && datum.p == 7"}, {"fold": ["m0","m10","m30","m50"], "as": ["series","shear"]}],
     "mark": {"type": "line", "strokeWidth": 1.3, "opacity": 0.55},
     "encoding": {
      "x": {"field": "shear", "type": "quantitative", "scale": {"domain": [0,25], "nice": false, "zero": false}, "axis": {"values": [0,25], "title": null}},
      "y": {"field": "z", "type": "quantitative", "scale": {"domain": [-327.5,-71], "nice": false, "zero": false}, "axis": {"values": [-100,-150,-200,-250,-300], "labels": false, "title": null}},
      "color": {"field": "series", "type": "nominal", "scale": {"domain": ["m0","m10","m30","m50"], "range": ["#1f77b4","#ff7f0e","#2ca02c","#d62728"]}, "legend": null},
      "order": {"field": "z", "type": "quantitative"}}},
    {"data": {"values": [{}]}, "mark": {"type": "rule", "color": "#a0a0a0", "strokeWidth": 1.7}, "encoding": {"x": {"datum": 25, "type": "quantitative", "axis": {"values": [0,25], "title": null}}}}
   ]},
   {"width": 18, "height": 788, "data": {"name": "strat"}, "layer": [
    {"mark": {"type": "rect", "clip": true},
     "encoding": {
      "x": {"datum": 0, "type": "quantitative", "scale": {"domain": [0,1], "nice": false}, "axis": null},
      "x2": {"datum": 1},
      "y": {"field": "top", "type": "quantitative", "scale": {"domain": [-327.5,-71], "nice": false, "zero": false}, "axis": null},
      "y2": {"field": "bot"},
      "color": {"field": "kind", "type": "nominal", "scale": {"domain": ["none","flow","inter","tuff"], "range": ["#c8c8c8","#000000","#ffff00","#22e022"]}, "legend": null}}},
    {"transform": [{"filter": "isValid(datum.label) && datum.label != 'FA' && datum.label != 'FC'"}],
     "mark": {"type": "text", "align": "left", "baseline": "middle", "dx": 2, "fontSize": 11.5, "color": "#333"},
     "encoding": {"x": {"datum": 1, "type": "quantitative"}, "y": {"field": "mid", "type": "quantitative"}, "text": {"field": "label"}}},
    {"transform": [{"filter": "datum.label == 'FA' || datum.label == 'FC'"}],
     "mark": {"type": "text", "align": "left", "baseline": "middle", "dx": 2, "fontSize": 6.5, "color": "#333"},
     "encoding": {"x": {"datum": 1, "type": "quantitative"}, "y": {"field": "mid", "type": "quantitative"}, "text": {"field": "label"}}}
   ]}
  ]
 },
 {
  "bounds": "flush",
  "spacing": 11.8,
  "resolve": {"scale": {"color": "independent"}},
  "hconcat": [
   {"width": 0.5, "height": 694, "data": {"values": [{}]}, "mark": {"type": "point", "opacity": 0}},
   {"width": 60, "height": 694, "layer": [
    {"data": {"name": "shear"}, "transform": [{"filter": "datum.f == 2 && datum.p == 1"}, {"fold": ["m0","m10","m30","m50"], "as": ["series","shear"]}],
     "mark": {"type": "line", "strokeWidth": 1.3, "opacity": 0.55},
     "encoding": {
      "x": {"field": "shear", "type": "quantitative", "scale": {"domain": [0,25], "nice": false, "zero": false}, "axis": {"values": [0,25], "title": null}},
      "y": {"field": "z", "type": "quantitative", "scale": {"domain": [-326.7,-76.2], "nice": false, "zero": false}, "axis": {"values": [-100,-150,-200,-250,-300], "title": "z (m)", "titleFontSize": 15, "titlePadding": 10, "titleY": 253}},
      "color": {"field": "series", "type": "nominal", "scale": {"domain": ["m0","m10","m30","m50"], "range": ["#1f77b4","#ff7f0e","#2ca02c","#d62728"]}, "legend": null},
      "order": {"field": "z", "type": "quantitative"}}},
    {"data": {"values": [{}]}, "mark": {"type": "rule", "color": "#a0a0a0", "strokeWidth": 1.7}, "encoding": {"x": {"datum": 25, "type": "quantitative", "axis": {"values": [0,25], "title": null}}}}
   ]},
   {"width": 60, "height": 694, "layer": [
    {"data": {"name": "shear"}, "transform": [{"filter": "datum.f == 2 && datum.p == 2"}, {"fold": ["m0","m10","m30","m50"], "as": ["series","shear"]}],
     "mark": {"type": "line", "strokeWidth": 1.3, "opacity": 0.55},
     "encoding": {
      "x": {"field": "shear", "type": "quantitative", "scale": {"domain": [0,25], "nice": false, "zero": false}, "axis": {"values": [0,25], "title": null}},
      "y": {"field": "z", "type": "quantitative", "scale": {"domain": [-326.7,-76.2], "nice": false, "zero": false}, "axis": {"values": [-100,-150,-200,-250,-300], "labels": false, "title": null}},
      "color": {"field": "series", "type": "nominal", "scale": {"domain": ["m0","m10","m30","m50"], "range": ["#1f77b4","#ff7f0e","#2ca02c","#d62728"]}, "legend": null},
      "order": {"field": "z", "type": "quantitative"}}},
    {"data": {"values": [{}]}, "mark": {"type": "rule", "color": "#a0a0a0", "strokeWidth": 1.7}, "encoding": {"x": {"datum": 25, "type": "quantitative", "axis": {"values": [0,25], "title": null}}}}
   ]},
   {"width": 60, "height": 694, "layer": [
    {"data": {"name": "shear"}, "transform": [{"filter": "datum.f == 2 && datum.p == 3"}, {"fold": ["m0","m10","m30","m50"], "as": ["series","shear"]}],
     "mark": {"type": "line", "strokeWidth": 1.3, "opacity": 0.55},
     "encoding": {
      "x": {"field": "shear", "type": "quantitative", "scale": {"domain": [0,25], "nice": false, "zero": false}, "axis": {"values": [0,25], "title": null}},
      "y": {"field": "z", "type": "quantitative", "scale": {"domain": [-326.7,-76.2], "nice": false, "zero": false}, "axis": {"values": [-100,-150,-200,-250,-300], "labels": false, "title": null}},
      "color": {"field": "series", "type": "nominal", "scale": {"domain": ["m0","m10","m30","m50"], "range": ["#1f77b4","#ff7f0e","#2ca02c","#d62728"]}, "legend": null},
      "order": {"field": "z", "type": "quantitative"}}},
    {"data": {"values": [{}]}, "mark": {"type": "rule", "color": "#a0a0a0", "strokeWidth": 1.7}, "encoding": {"x": {"datum": 25, "type": "quantitative", "axis": {"values": [0,25], "title": null}}}}
   ]},
   {"width": 60, "height": 694, "layer": [
    {"data": {"name": "shear"}, "transform": [{"filter": "datum.f == 2 && datum.p == 4"}, {"fold": ["m0","m10","m30","m50"], "as": ["series","shear"]}],
     "mark": {"type": "line", "strokeWidth": 1.3, "opacity": 0.55},
     "encoding": {
      "x": {"field": "shear", "type": "quantitative", "scale": {"domain": [0,25], "nice": false, "zero": false}, "axis": {"values": [0,25], "title": "shear (cm)", "titleFontSize": 16, "titlePadding": 8}},
      "y": {"field": "z", "type": "quantitative", "scale": {"domain": [-326.7,-76.2], "nice": false, "zero": false}, "axis": {"values": [-100,-150,-200,-250,-300], "labels": false, "title": null}},
      "color": {"field": "series", "type": "nominal", "scale": {"domain": ["m0","m10","m30","m50"], "range": ["#1f77b4","#ff7f0e","#2ca02c","#d62728"]},
        "legend": {"orient": "none", "legendX": -121, "legendY": 742, "title": null, "labelFontSize": 11.5, "symbolSize": 600, "rowPadding": -1.5, "columnPadding": 22,
          "labelExpr": "datum.value == 'm0' ? '0 m past group' : datum.value == 'm10' ? '10 m past group' : datum.value == 'm30' ? '30 m past group' : '50 m past group'"}},
      "order": {"field": "z", "type": "quantitative"}}},
    {"data": {"values": [{}]}, "mark": {"type": "rule", "color": "#a0a0a0", "strokeWidth": 1.7}, "encoding": {"x": {"datum": 25, "type": "quantitative", "axis": {"values": [0,25], "title": "shear (cm)", "titleFontSize": 16, "titlePadding": 8}}}}
   ]},
   {"width": 60, "height": 694, "layer": [
    {"data": {"name": "shear"}, "transform": [{"filter": "datum.f == 2 && datum.p == 5"}, {"fold": ["m0","m10","m30","m50"], "as": ["series","shear"]}],
     "mark": {"type": "line", "strokeWidth": 1.3, "opacity": 0.55},
     "encoding": {
      "x": {"field": "shear", "type": "quantitative", "scale": {"domain": [0,25], "nice": false, "zero": false}, "axis": {"values": [0,25], "title": null}},
      "y": {"field": "z", "type": "quantitative", "scale": {"domain": [-326.7,-76.2], "nice": false, "zero": false}, "axis": {"values": [-100,-150,-200,-250,-300], "labels": false, "title": null}},
      "color": {"field": "series", "type": "nominal", "scale": {"domain": ["m0","m10","m30","m50"], "range": ["#1f77b4","#ff7f0e","#2ca02c","#d62728"]}, "legend": null},
      "order": {"field": "z", "type": "quantitative"}}},
    {"data": {"values": [{}]}, "mark": {"type": "rule", "color": "#a0a0a0", "strokeWidth": 1.7}, "encoding": {"x": {"datum": 25, "type": "quantitative", "axis": {"values": [0,25], "title": null}}}}
   ]},
   {"width": 60, "height": 694, "layer": [
    {"data": {"name": "shear"}, "transform": [{"filter": "datum.f == 2 && datum.p == 6"}, {"fold": ["m0","m10","m30","m50"], "as": ["series","shear"]}],
     "mark": {"type": "line", "strokeWidth": 1.3, "opacity": 0.55},
     "encoding": {
      "x": {"field": "shear", "type": "quantitative", "scale": {"domain": [0,25], "nice": false, "zero": false}, "axis": {"values": [0,25], "title": null}},
      "y": {"field": "z", "type": "quantitative", "scale": {"domain": [-326.7,-76.2], "nice": false, "zero": false}, "axis": {"values": [-100,-150,-200,-250,-300], "labels": false, "title": null}},
      "color": {"field": "series", "type": "nominal", "scale": {"domain": ["m0","m10","m30","m50"], "range": ["#1f77b4","#ff7f0e","#2ca02c","#d62728"]}, "legend": null},
      "order": {"field": "z", "type": "quantitative"}}},
    {"data": {"values": [{}]}, "mark": {"type": "rule", "color": "#a0a0a0", "strokeWidth": 1.7}, "encoding": {"x": {"datum": 25, "type": "quantitative", "axis": {"values": [0,25], "title": null}}}}
   ]},
   {"width": 60, "height": 694, "layer": [
    {"data": {"name": "shear"}, "transform": [{"filter": "datum.f == 2 && datum.p == 7"}, {"fold": ["m0","m10","m30","m50"], "as": ["series","shear"]}],
     "mark": {"type": "line", "strokeWidth": 1.3, "opacity": 0.55},
     "encoding": {
      "x": {"field": "shear", "type": "quantitative", "scale": {"domain": [0,25], "nice": false, "zero": false}, "axis": {"values": [0,25], "title": null}},
      "y": {"field": "z", "type": "quantitative", "scale": {"domain": [-326.7,-76.2], "nice": false, "zero": false}, "axis": {"values": [-100,-150,-200,-250,-300], "labels": false, "title": null}},
      "color": {"field": "series", "type": "nominal", "scale": {"domain": ["m0","m10","m30","m50"], "range": ["#1f77b4","#ff7f0e","#2ca02c","#d62728"]}, "legend": null},
      "order": {"field": "z", "type": "quantitative"}}},
    {"data": {"values": [{}]}, "mark": {"type": "rule", "color": "#a0a0a0", "strokeWidth": 1.7}, "encoding": {"x": {"datum": 25, "type": "quantitative", "axis": {"values": [0,25], "title": null}}}}
   ]},
   {"width": 15, "height": 694, "data": {"name": "strat"}, "layer": [
    {"mark": {"type": "rect", "clip": true},
     "encoding": {
      "x": {"datum": 0, "type": "quantitative", "scale": {"domain": [0,1], "nice": false}, "axis": null},
      "x2": {"datum": 1},
      "y": {"field": "top", "type": "quantitative", "scale": {"domain": [-326.7,-76.2], "nice": false, "zero": false}, "axis": null},
      "y2": {"field": "bot"},
      "color": {"field": "kind", "type": "nominal", "scale": {"domain": ["none","flow","inter","tuff"], "range": ["#c8c8c8","#000000","#ffff00","#22e022"]}, "legend": null}}},
    {"transform": [{"filter": "isValid(datum.label) && datum.label != 'FA' && datum.label != 'FC'"}],
     "mark": {"type": "text", "align": "left", "baseline": "middle", "dx": 2, "fontSize": 10.5, "color": "#333"},
     "encoding": {"x": {"datum": 1, "type": "quantitative"}, "y": {"field": "mid", "type": "quantitative"}, "text": {"field": "label"}}},
    {"transform": [{"filter": "datum.label == 'FA' || datum.label == 'FC'"}],
     "mark": {"type": "text", "align": "left", "baseline": "middle", "dx": 2, "fontSize": 6, "color": "#333"},
     "encoding": {"x": {"datum": 1, "type": "quantitative"}, "y": {"field": "mid", "type": "quantitative"}, "text": {"field": "label"}}}
   ]}
  ]
 }
]
}
